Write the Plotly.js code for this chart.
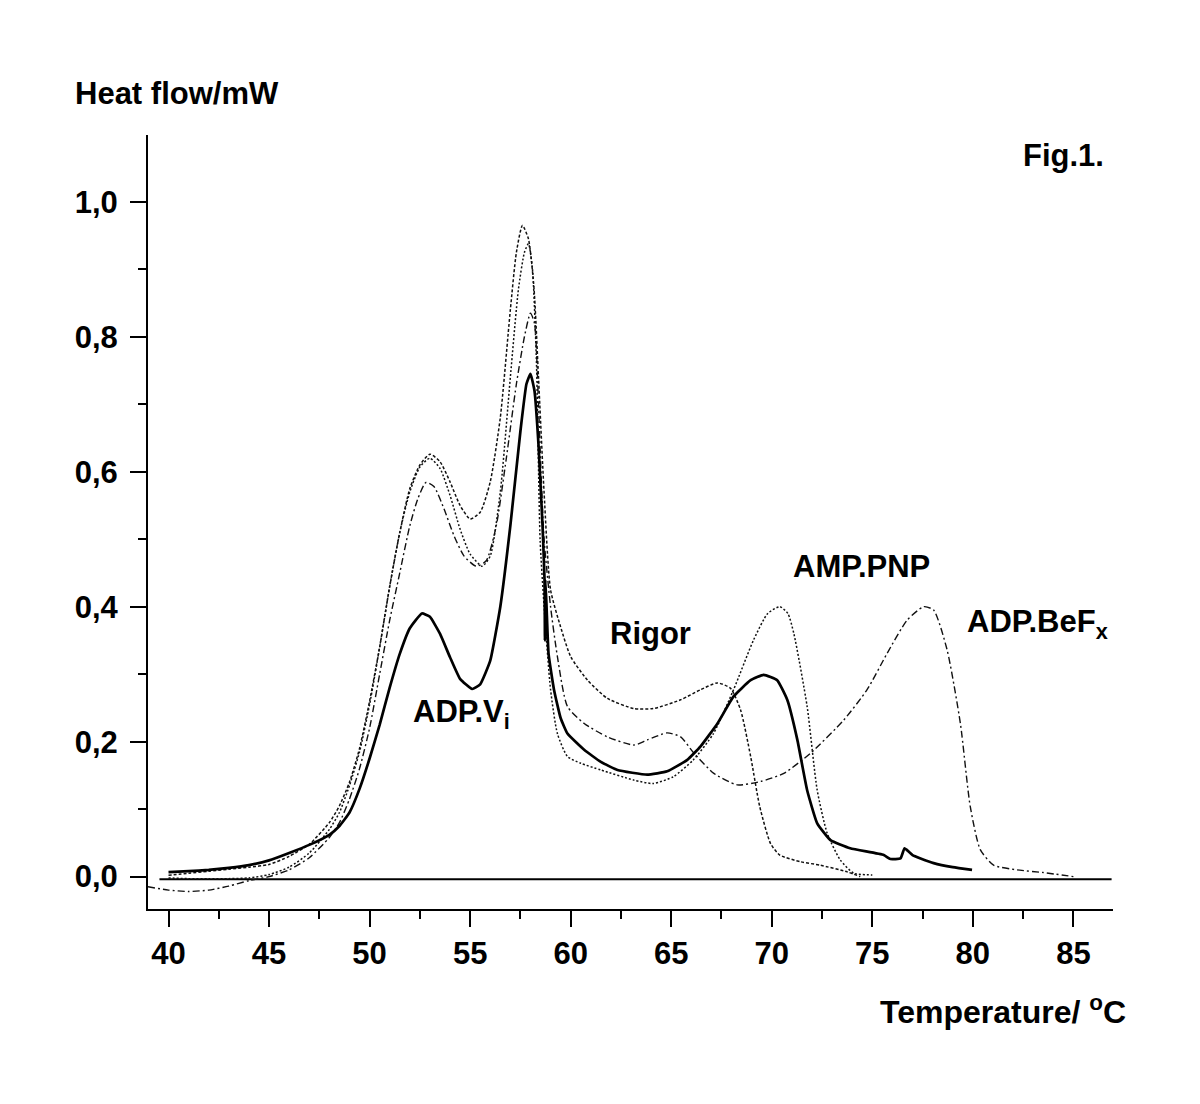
<!DOCTYPE html>
<html>
<head>
<meta charset="utf-8">
<script src="https://cdn.plot.ly/plotly-3.0.1.min.js"></script>
<style>html,body{margin:0;padding:0;background:#fff;}#chart{width:1200px;height:1104px;}</style>
</head>
<body>
<div id="chart"></div>
<script>
// ADP.Vi (solid)
const adpvi_x = [40,41,42,43,44,45,46,47,48,48.5,49,49.5,50,50.5,51,51.5,52,52.6,53,53.5,54,54.5,55.1,55.5,56,56.5,57,57.5,57.8,58.0,58.2,58.4,58.6,58.7,58.72,58.74,58.8,58.9,59.17,59.5,59.84,60.67,61.5,62.33,63.8,64.8,65.8,66.46,67.3,68.1,68.95,69.6,70.27,70.77,71.27,71.76,72.26,72.92,73.9,75.57,75.9,76.4,76.6,76.7,77.0,77.4,78.05,79,79.96];
const adpvi_y = [0.0065,0.008,0.01,0.013,0.017,0.024,0.035,0.047,0.062,0.075,0.095,0.13,0.175,0.225,0.28,0.33,0.368,0.39,0.385,0.36,0.325,0.293,0.278,0.285,0.32,0.40,0.52,0.66,0.73,0.745,0.72,0.64,0.52,0.44,0.35,0.44,0.40,0.33,0.277,0.235,0.212,0.188,0.170,0.158,0.151,0.156,0.173,0.193,0.227,0.267,0.291,0.299,0.291,0.262,0.203,0.128,0.079,0.054,0.042,0.032,0.026,0.027,0.042,0.04,0.032,0.027,0.020,0.014,0.010];

// Rigor (short dashes)
const rigor_x = [40,41,42,43,44,45,46,47,48,48.5,49,49.5,50,50.5,51,51.5,52,52.5,53,53.5,54,54.5,55,55.5,56,56.5,57,57.3,57.6,57.9,58.18,58.4,58.68,59.0,59.5,60.0,60.84,61.83,63.15,64.1,65.47,66.46,67.3,67.95,68.45,68.95,69.4,69.94,70.4,71.43,72.4,73.75,74.4];
const rigor_y = [0.002,0.005,0.008,0.011,0.014,0.018,0.03,0.048,0.08,0.105,0.14,0.19,0.26,0.34,0.43,0.51,0.575,0.61,0.626,0.615,0.585,0.55,0.53,0.54,0.585,0.68,0.84,0.925,0.965,0.945,0.87,0.74,0.568,0.425,0.370,0.326,0.291,0.264,0.249,0.249,0.262,0.277,0.287,0.279,0.247,0.178,0.104,0.049,0.032,0.022,0.017,0.007,0.0];

// AMP.PNP (dotted)
const amppnp_x = [40,41,42,43,44,45,46,47,48,48.5,49,49.5,50,50.5,51,51.5,52,52.5,53,53.5,54,54.5,55,55.6,56,56.5,57,57.4,57.7,57.9,58.1,58.3,58.48,58.68,59.0,59.34,59.84,60.5,61.5,63.15,64.1,65.1,66.1,67.1,68.1,69.1,69.8,70.4,70.8,71.1,71.76,72.26,72.76,73.4,74.08,75.0];
const amppnp_y = [-0.002,-0.003,-0.003,-0.003,-0.002,0.003,0.014,0.035,0.07,0.095,0.135,0.185,0.255,0.34,0.43,0.51,0.57,0.607,0.62,0.605,0.565,0.515,0.478,0.46,0.475,0.57,0.74,0.87,0.925,0.938,0.9,0.76,0.499,0.40,0.277,0.212,0.178,0.168,0.158,0.143,0.138,0.148,0.173,0.212,0.277,0.351,0.39,0.40,0.39,0.36,0.252,0.128,0.064,0.025,0.005,0.0025];

// ADP.BeFx (dash-dot)
const adpbefx_x = [38.98,40,41,42,43,44,45,46,47,48,48.5,49,49.5,50,50.5,51,51.5,52,52.4,52.8,53.2,53.7,54.2,54.7,55.3,55.8,56.3,56.8,57.3,57.7,58.0,58.2,58.4,58.55,58.68,59.0,59.34,59.84,60.67,61.83,63.15,63.81,64.8,65.47,66.13,67.12,68.28,69.45,70.6,71.93,73.58,74.74,75.74,76.73,77.56,78.05,78.72,79.38,79.87,80.37,81.03,82.2,83.5,85];
const adpbefx_y = [-0.015,-0.02,-0.022,-0.02,-0.014,-0.006,0.0,0.01,0.028,0.058,0.08,0.115,0.16,0.22,0.3,0.38,0.45,0.52,0.56,0.584,0.578,0.545,0.505,0.475,0.46,0.468,0.52,0.62,0.73,0.80,0.835,0.82,0.70,0.58,0.499,0.40,0.326,0.252,0.227,0.207,0.195,0.2025,0.213,0.207,0.183,0.153,0.136,0.141,0.153,0.183,0.232,0.277,0.331,0.380,0.40,0.395,0.336,0.227,0.104,0.04,0.017,0.01,0.006,0.0];

// zero baseline
const base_x = [39.55, 86.9];
const base_y = [-0.004, -0.004];

// labels
const label_text = ["ADP.V<sub>i</sub>", "Rigor", "AMP.PNP", "ADP.BeF<sub>x</sub>"];
const label_x = [52.05, 61.85, 70.95, 79.6];
const label_y = [0.241, 0.360, 0.460, 0.374];

const FONT = 'Liberation Sans, Arial, Helvetica, sans-serif';
const FS = 31;

const traces = [
  {x: base_x, y: base_y, mode: 'lines', line: {color: '#000', width: 2}, hoverinfo: 'skip'},
  {x: rigor_x, y: rigor_y, mode: 'lines', line: {color: '#111', width: 1.5, dash: '3px,2px', shape: 'spline', smoothing: 0.6}},
  {x: amppnp_x, y: amppnp_y, mode: 'lines', line: {color: '#111', width: 1.5, dash: '2px,2px', shape: 'spline', smoothing: 0.6}},
  {x: adpbefx_x, y: adpbefx_y, mode: 'lines', line: {color: '#111', width: 1.4, dash: '7px,3px,2px,3px', shape: 'spline', smoothing: 0.6}},
  {x: adpvi_x, y: adpvi_y, mode: 'lines', line: {color: '#000', width: 2.7, shape: 'spline', smoothing: 0.4}}
];

const annotations = label_text.map((t, i) => ({
  x: label_x[i], y: label_y[i], xref: 'x', yref: 'y', text: '<b>' + t + '</b>',
  showarrow: false, xanchor: 'left', yanchor: 'middle',
  font: {family: FONT, size: FS, color: '#000'}
}));
annotations.push(
  {x: -0.078, y: 1.054, xref: 'paper', yref: 'paper', text: '<b>Heat flow/mW</b>', showarrow: false,
   xanchor: 'left', yanchor: 'middle', font: {family: FONT, size: FS, color: '#000'}},
  {x: 1.0155, y: -0.131, xref: 'paper', yref: 'paper', text: '<b>Temperature/ <sup>o</sup>C</b>', showarrow: false,
   xanchor: 'right', yanchor: 'middle', font: {family: FONT, size: 32, color: '#000'}},
  {x: 0.905, y: 0.973, xref: 'paper', yref: 'paper', text: '<b>Fig.1.</b>', showarrow: false,
   xanchor: 'left', yanchor: 'middle', font: {family: FONT, size: FS, color: '#000'}}
);

const layout = {
  width: 1200, height: 1104,
  margin: {l: 148, r: 87, t: 135, b: 195},
  paper_bgcolor: '#fff', plot_bgcolor: '#fff',
  showlegend: false,
  separators: ', ',
  xaxis: {
    range: [38.98, 86.97], showgrid: false, zeroline: false,
    showline: true, linecolor: '#000', linewidth: 2,
    ticks: 'outside', ticklen: 16, tickwidth: 2, tickcolor: '#000',
    tick0: 40, dtick: 5,
    minor: {ticks: 'outside', ticklen: 8, tickwidth: 2, tickcolor: '#000', dtick: 2.5, tick0: 40, showgrid: false},
    tickfont: {family: FONT, size: FS, color: '#000', weight: 'bold'}
  },
  yaxis: {
    range: [-0.048, 1.099], showgrid: false, zeroline: false,
    showline: true, linecolor: '#000', linewidth: 2,
    ticks: 'outside', ticklen: 16, tickwidth: 2, tickcolor: '#000',
    tick0: 0, dtick: 0.2, tickformat: '.1f',
    minor: {ticks: 'outside', ticklen: 8, tickwidth: 2, tickcolor: '#000', dtick: 0.1, tick0: 0, showgrid: false},
    tickfont: {family: FONT, size: FS, color: '#000', weight: 'bold'},
    ticklabelstandoff: 6
  },
  annotations: annotations
};

Plotly.newPlot('chart', traces, layout, {staticPlot: true});
</script>
</body>
</html>
